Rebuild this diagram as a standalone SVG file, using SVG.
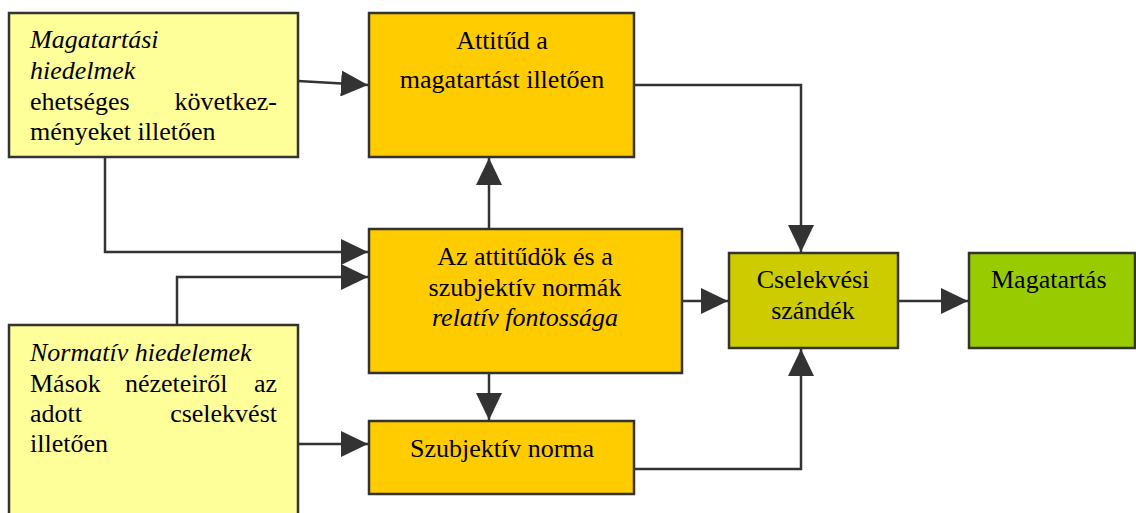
<svg xmlns="http://www.w3.org/2000/svg" width="1136" height="513" viewBox="0 0 1136 513">
  <defs>
    <marker id="arrow" viewBox="0 0 27 26" refX="27" refY="13" markerWidth="27" markerHeight="26" orient="auto" markerUnits="userSpaceOnUse">
      <path d="M0,0 L27,13 L0,26 Z" fill="#333333"/>
    </marker>
    <style>
      .box { stroke: #333333; stroke-width: 2.5; }
      .belief { fill: #FFFF99; }
      .factor { fill: #FFCC00; }
      .intent { fill: #CCCC00; }
      .act { fill: #99CC00; }
      text { font-family: "Liberation Serif", "Times New Roman", serif; font-size: 26px; fill: #000000; }
      .c { text-anchor: middle; }
      .e { text-anchor: end; }
      .i { font-style: italic; }
      .link { fill: none; stroke: #333333; stroke-width: 2.5; marker-end: url(#arrow); }
    </style>
  </defs>

  <!-- arrows between the boxes -->
  <g id="connectors">
    <path class="link" d="M298,81 L368,85"/>
    <path class="link" d="M105,157 V252 H368"/>
    <path class="link" d="M177,325 V277 H368"/>
    <path class="link" d="M489,229 V158"/>
    <path class="link" d="M489,373 V420"/>
    <path class="link" d="M682,301 H728"/>
    <path class="link" d="M634,85 H801 V252"/>
    <path class="link" d="M634,469 H801 V349"/>
    <path class="link" d="M298,444 H368"/>
    <path class="link" d="M898,301 H968"/>
  </g>

  <g id="behavioral-beliefs">
    <rect class="box belief" x="9" y="13" width="289" height="144"/>
    <text class="i" x="30" y="48">Magatartási</text>
    <text class="i" x="30" y="79">hiedelmek</text>
    <text x="30" y="110">ehetséges</text>
    <text class="e" x="277" y="110">következ-</text>
    <text x="30" y="140">ményeket illetően</text>
  </g>

  <!-- runs past the bottom edge, so no lower border is seen -->
  <g id="normative-beliefs">
    <rect class="box belief" x="9" y="325" width="289" height="200"/>
    <text class="i" x="30" y="361">Normatív hiedelemek</text>
    <text x="30" y="392">Mások</text>
    <text x="125" y="392">nézeteiről</text>
    <text class="e" x="277" y="392">az</text>
    <text x="30" y="422">adott</text>
    <text class="e" x="277" y="422">cselekvést</text>
    <text x="30" y="452">illetően</text>
  </g>

  <g id="attitude">
    <rect class="box factor" x="369" y="13" width="265" height="144"/>
    <text class="c" x="502" y="49">Attitűd a</text>
    <text class="c" x="502" y="88">magatartást illetően</text>
  </g>

  <g id="relative-importance">
    <rect class="box factor" x="369" y="229" width="313" height="144"/>
    <text class="c" x="525" y="265">Az attitűdök és a</text>
    <text class="c" x="525" y="296">szubjektív normák</text>
    <text class="c i" x="525" y="326">relatív fontossága</text>
  </g>

  <g id="subjective-norm">
    <rect class="box factor" x="369" y="421" width="265" height="73"/>
    <text class="c" x="502" y="457">Szubjektív norma</text>
  </g>

  <g id="intention">
    <rect class="box intent" x="729" y="253" width="169" height="95"/>
    <text class="c" x="813" y="288">Cselekvési</text>
    <text class="c" x="813" y="319">szándék</text>
  </g>

  <g id="behavior">
    <rect class="box act" x="969" y="253" width="166" height="95"/>
    <text x="991" y="288">Magatartás</text>
  </g>
</svg>
